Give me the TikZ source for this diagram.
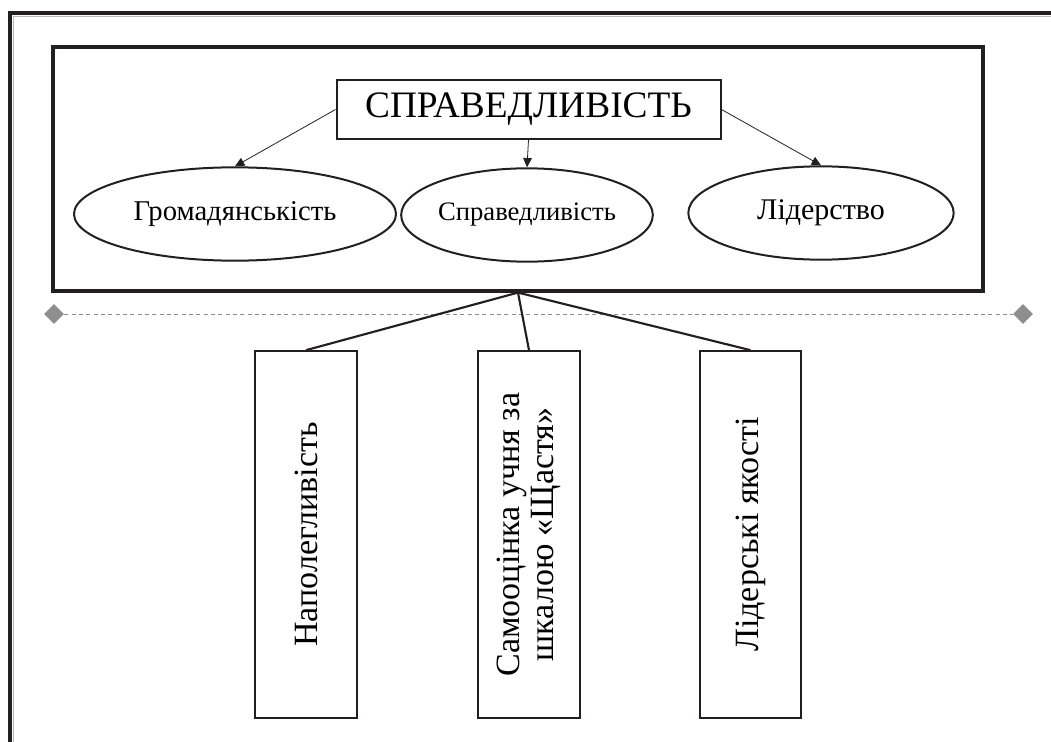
\documentclass[tikz,border=0pt]{standalone}
\usepackage{fontspec}
\setmainfont{Liberation Serif}
\usetikzlibrary{shapes.geometric}
\usetikzlibrary{arrows.meta}
\definecolor{ink}{HTML}{231F20}
\definecolor{rulegray}{HTML}{8E8E8E}

\begin{document}
\begin{tikzpicture}[x=0.75pt,y=-0.75pt,align=center,
		outline/.style={draw=ink,line width=1.5pt},
		oval/.style={ellipse,outline,inner sep=0pt},
		tallbox/.style={rectangle,outline,rotate=90,minimum width=275pt,minimum height=76pt,inner sep=0pt,font=\fontsize{25.5}{25}\selectfont},
		pointer/.style={draw=ink,line width=0.6pt,-{Triangle[length=7pt,width=6.5pt]}},
		spoke/.style={draw=ink,line width=1.6pt},
		marker/.style={diamond,fill=rulegray,inner sep=0pt,minimum size=15pt}]
		\useasboundingbox (0,0) rectangle (1051,742);
		% Outer frame, runs off the page
		\draw[ink,line width=2.8pt] (10,760) -- (10,13) -- (1070,13);
		\draw[gray!55,line width=0.8pt] (13.5,760) -- (13.5,16.5) -- (1070,16.5);
		
		% Top panel
		\node[outline,line width=2.4pt,minimum width=697.5pt,minimum height=183pt] at (518,169) (panel) {};
		\node[outline,minimum width=288pt,minimum height=44pt,inner sep=0pt,font=\fontsize{28}{32}\selectfont] at (528.5,109.5) (title) {СПРАВЕДЛИВІСТЬ};
		\node[oval,minimum width=241.5pt,minimum height=70pt,font=\fontsize{21.5}{24}\selectfont] at (235,214) (civic) {Громадянськість};
		\node[oval,minimum width=178pt,minimum height=70pt,font=\fontsize{20}{24}\selectfont] at (527,215) (fairness) {Справедливість};
		\node[oval,minimum width=199pt,minimum height=70pt,font=\fontsize{22.5}{26}\selectfont] at (821,213) (leader) {Лідерство};
		% Arrows inside the panel
		\draw[pointer] (title.west) -- (civic.north);
		\draw[pointer] (title.south) -- (fairness.north);
		\draw[pointer] (title.east) -- (leader.north);
		
		% Dashed rule
		\node[marker] at (54,314) (ruleleft) {};
		\node[marker] at (1023,314) (ruleright) {};
		\draw[rulegray,line width=0.6pt,dash pattern=on 3pt off 2.5pt] (ruleleft) -- (ruleright);
		
		% Lower boxes
		\node[tallbox] at (306,534.5) (persist) {Наполегливість};
		\node[tallbox] at (529,534.5) (selfrate) {Самооцінка учня за\\шкалою «Щастя»};
		\node[tallbox] at (750.5,534.5) (leadtraits) {Лідерські якості};
		\draw[spoke] (panel.south) -- (persist.east);
		\draw[spoke] (panel.south) -- (selfrate.east);
		\draw[spoke] (panel.south) -- (leadtraits.east);
		
\end{tikzpicture}
\end{document}
